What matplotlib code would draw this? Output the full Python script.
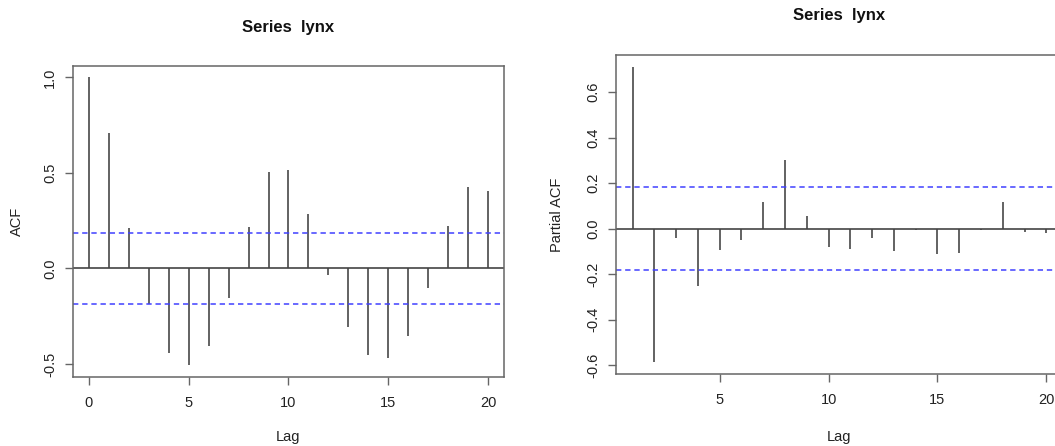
import matplotlib.pyplot as plt

plt.rcParams['font.family'] = ['Liberation Sans', 'DejaVu Sans']

# ACF of lynx, lags 0..20
acf_lags = list(range(0, 21))
acf_vals = [1.0, 0.711, 0.214, -0.184, -0.443, -0.507, -0.405, -0.152, 0.217, 0.503,
            0.516, 0.283, -0.034, -0.304, -0.454, -0.467, -0.353, -0.103, 0.223, 0.428, 0.407]

# PACF of lynx, lags 1..20
pacf_lags = list(range(1, 21))
pacf_vals = [0.711, -0.588, -0.039, -0.250, -0.094, -0.052, 0.119, 0.301, 0.055, -0.081,
             -0.089, -0.042, -0.099, -0.008, -0.113, -0.109, -0.005, 0.115, -0.015, -0.018]

ci = 0.1836  # 1.96 / sqrt(114)

fig = plt.figure(figsize=(10.55, 4.46), dpi=100)
ax1 = fig.add_axes([0.0692, 0.1547, 0.4085, 0.6973])
ax2 = fig.add_axes([0.5839, 0.1608, 0.4236, 0.7159])


def style(ax):
    for s in ax.spines.values():
        s.set_color('#666666')
        s.set_linewidth(1.1)
    ax.tick_params(axis='both', direction='out', length=5.5, width=1.0,
                   color='#666666', labelsize=10.5, labelcolor='#222222')
    ax.tick_params(axis='y', labelrotation=90, pad=6)
    ax.tick_params(axis='x', pad=8)


def draw(ax, lags, vals, ylab, xlim, ylim, yticks, xticks, labx, laby):
    ax.vlines(lags, 0, vals, color='#383838', lw=1.1)
    ax.axhline(0, color='#444444', lw=1.2)
    ax.axhline(ci, color='#4040ff', lw=1.1, ls=(0, (3.5, 2.5)))
    ax.axhline(-ci, color='#4040ff', lw=1.1, ls=(0, (3.5, 2.5)))
    ax.set_xlim(*xlim)
    ax.set_ylim(*ylim)
    ax.set_xticks(xticks)
    ax.set_yticks(yticks)
    ax.set_xlabel('Lag', fontsize=10.5, color='#222222')
    ax.set_ylabel(ylab, fontsize=10.5, color='#222222')
    ax.xaxis.set_label_coords(0.5, labx)
    ax.yaxis.set_label_coords(laby, 0.5)
    ax.xaxis.label.set_va('center')
    ax.yaxis.label.set_va('center')
    ax.text(0.5, 1.125, 'Series  lynx', transform=ax.transAxes, ha='center', va='center',
            fontsize=12, fontweight='bold', color='#111111')
    style(ax)


draw(ax1, acf_lags, acf_vals, 'ACF', (-0.8, 20.8), (-0.568, 1.06),
     [-0.5, 0.0, 0.5, 1.0], [0, 5, 10, 15, 20], -0.193, -0.13)
ax1.set_yticklabels(['-0.5', '0.0', '0.5', '1.0'])
draw(ax2, pacf_lags, pacf_vals, 'Partial ACF', (0.24, 20.76), (-0.64, 0.763),
     [-0.6, -0.4, -0.2, 0.0, 0.2, 0.4, 0.6], [5, 10, 15, 20], -0.196, -0.132)
ax2.set_yticklabels(['-0.6', '-0.4', '-0.2', '0.0', '0.2', '0.4', '0.6'])
for ax in (ax1, ax2):
    for lab in ax.get_yticklabels():
        lab.set_va('center')

fig.savefig('out.png', dpi=100)
